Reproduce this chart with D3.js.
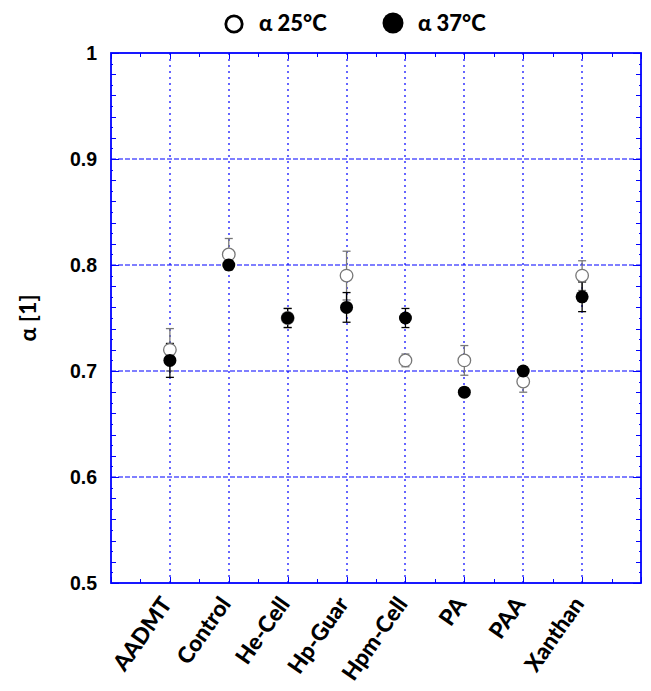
<!DOCTYPE html>
<html><head><meta charset="utf-8">
<script src="https://cdn.jsdelivr.net/npm/d3@7"></script>
<style>body{margin:0;background:#fff}</style>
</head><body>
<svg id="c" width="651" height="691"></svg>
<script>
const categories = ["AADMT","Control","He-Cell","Hp-Guar","Hpm-Cell","PA","PAA","Xanthan"];
const alpha25 = [0.72,0.81,0.75,0.79,0.71,0.71,0.69,0.79];
const err25   = [0.02,0.015,0.009,0.023,0.006,0.014,0.01,0.014];
const alpha37 = [0.71,0.80,0.75,0.76,0.75,0.68,0.70,0.77];
const err37   = [0.016,0.004,0.009,0.014,0.009,0.004,0.004,0.014];
const yTicks = [0.5,0.6,0.7,0.8,0.9,1];
const yTickLabels = ["0.5","0.6","0.7","0.8","0.9","1"];
const seriesNames = ["α 25°C","α 37°C"];

const svg = d3.select("#c");
const L=111,R=641,T=53,B=583;
const blue="#0000ff";
const x = d3.scaleLinear().domain([0,categories.length+1]).range([L,R]);
const y = d3.scaleLinear().domain([0.5,1]).range([B,T]);

// grid
const g = svg.append("g");
g.selectAll(".hg").data(yTicks.filter(v=>v>0.5&&v<1)).join("line")
 .attr("x1",L).attr("x2",R).attr("y1",d=>Math.round(y(d))).attr("y2",d=>Math.round(y(d)))
 .attr("stroke",blue).attr("stroke-width",1.2).attr("stroke-dasharray","5,2");
g.selectAll(".vg").data(categories.map((c,i)=>i+1)).join("line")
 .attr("x1",d=>Math.round(x(d))).attr("x2",d=>Math.round(x(d))).attr("y1",T).attr("y2",B)
 .attr("stroke",blue).attr("stroke-width",1.2).attr("stroke-dasharray","2,4");

// minor ticks y (left & right)
const minorY = d3.range(0,51).map(i=>0.5+i*0.01);
minorY.forEach(v=>{
  const k = Math.round(v*100);
  const len = k%10===0 ? 8 : (k%2===0?5:2);
  const yy = Math.round(y(v))+0.5;
  g.append("line").attr("x1",L).attr("x2",L+len).attr("y1",yy).attr("y2",yy).attr("stroke",blue).attr("stroke-width",1);
  g.append("line").attr("x1",R).attr("x2",R-len).attr("y1",yy).attr("y2",yy).attr("stroke",blue).attr("stroke-width",1);
});
// x ticks (bottom & top)
d3.range(0,19).map(i=>i*0.5).forEach(v=>{
  const len = v%1===0 ? 6 : 4;
  const xx = Math.round(x(v))+0.5;
  g.append("line").attr("x1",xx).attr("x2",xx).attr("y1",B).attr("y2",B-len).attr("stroke",blue).attr("stroke-width",1);
  g.append("line").attr("x1",xx).attr("x2",xx).attr("y1",T).attr("y2",T+len).attr("stroke",blue).attr("stroke-width",1);
});
// frame
g.append("rect").attr("x",L).attr("y",T).attr("width",R-L).attr("height",B-T)
 .attr("fill","none").attr("stroke",blue).attr("stroke-width",1.8);

// y tick labels
svg.selectAll(".yl").data(yTicks).join("text")
 .attr("x",L-14).attr("y",d=>y(d)+7).attr("text-anchor","end")
 .attr("font-family","Liberation Sans, Arial, sans-serif").attr("font-weight","bold").attr("font-size",19.5)
 .text((d,i)=>yTickLabels[i]);

// y label
svg.append("text").attr("transform",`translate(36,${(T+B)/2}) rotate(-90)`).attr("text-anchor","middle")
 .attr("font-family","Lato, sans-serif").attr("font-weight","bold").attr("font-size",23).text("α [1]");

// x labels
svg.selectAll(".xl").data(categories).join("text")
 .attr("transform",(d,i)=>`translate(${x(i+1)+3},${B+21}) rotate(-55)`)
 .attr("text-anchor","end")
 .attr("font-family","Lato, sans-serif").attr("font-weight","900").attr("font-size",22.5)
 .text(d=>d);

// error bars
function errBars(vals, errs, color){
  const eg = svg.append("g").attr("stroke",color).attr("stroke-width",1.3);
  vals.forEach((v,i)=>{
    const cx=x(i+1);
    eg.append("line").attr("x1",cx).attr("x2",cx).attr("y1",y(v-errs[i])).attr("y2",y(v+errs[i]));
    [v-errs[i],v+errs[i]].forEach(e=>eg.append("line").attr("x1",cx-4).attr("x2",cx+4).attr("y1",y(e)).attr("y2",y(e)));
  });
}
errBars(alpha25,err25,"#777");
errBars(alpha37,err37,"#000");
svg.selectAll(".p25").data(alpha25).join("circle")
 .attr("cx",(d,i)=>x(i+1)).attr("cy",d=>y(d)).attr("r",6.3)
 .attr("fill","#fff").attr("stroke","#777").attr("stroke-width",1.3);
svg.selectAll(".p37").data(alpha37).join("circle")
 .attr("cx",(d,i)=>x(i+1)).attr("cy",d=>y(d)).attr("r",6.5)
 .attr("fill","#000");

// legend
svg.append("circle").attr("cx",234).attr("cy",24).attr("r",8.2).attr("fill","#fff").attr("stroke","#000").attr("stroke-width",2.8);
svg.append("text").attr("x",259).attr("y",31).attr("font-family","Lato, sans-serif").attr("font-weight","900").attr("font-size",22).text(seriesNames[0]);
svg.append("circle").attr("cx",393).attr("cy",23).attr("r",10.5).attr("fill","#000");
svg.append("text").attr("x",418).attr("y",31).attr("font-family","Lato, sans-serif").attr("font-weight","900").attr("font-size",22).text(seriesNames[1]);
</script>
</body></html>
